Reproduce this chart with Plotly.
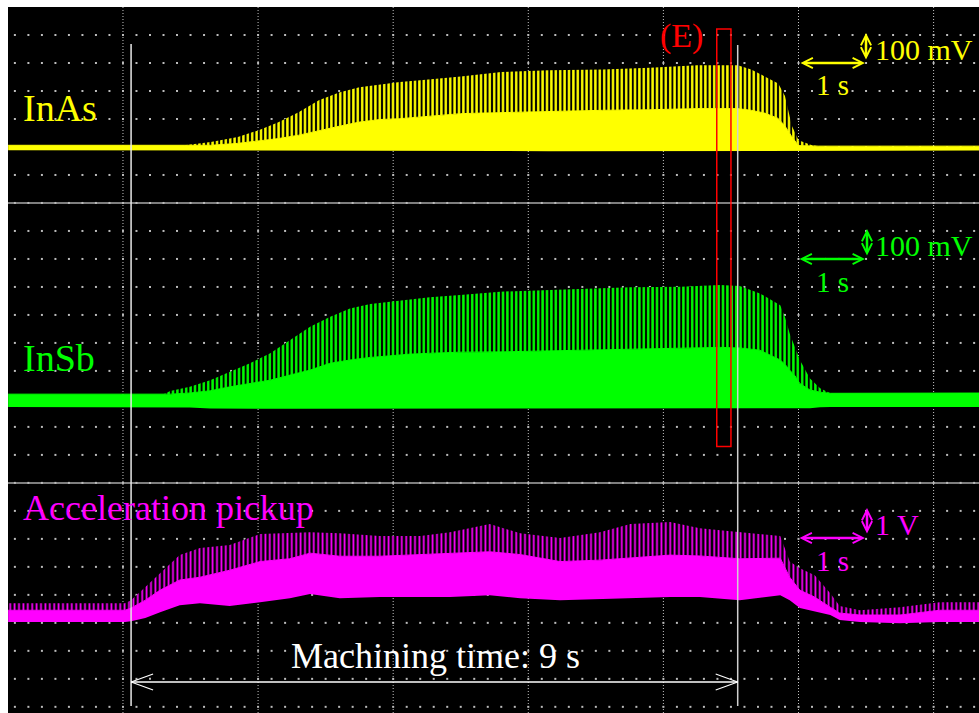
import numpy as np
import plotly.graph_objects as go

# ---------------- data ----------------
# time in seconds (0 s = first major vertical grid line, 2 s per major division)
inas_t = [-1.70, 0.90, 1.00, 1.30, 1.70, 2.00, 2.30, 2.60, 2.90, 3.20, 3.50, 3.80, 4.10, 4.40,
          4.70, 5.00, 5.30, 5.60, 6.30, 7.10, 7.80, 8.50, 9.10, 9.30, 9.50, 9.70, 9.80, 9.90,
          10.00, 10.20, 10.30, 12.70]
# InAs signal in mV relative to its baseline: peak (spike) envelope, dense body top, lower edge
inas_spike = [9, 9, 12, 21, 39, 62, 91, 127, 170, 198, 216, 226, 235, 241, 247, 255, 263, 271,
              277, 280, 286, 295, 295, 280, 255, 230, 185, 80, 27, 9, 6, 6]
inas_body = [9, 9, 9, 9, 16, 24, 33, 45, 62, 77, 92, 101, 104, 110, 115, 122, 124, 126, 130,
             134, 136, 140, 140, 134, 124, 105, 78, 40, 8, 6, 6, 6]
inas_lower = [-9, -9, -9, -10, -10, -11, -11, -11, -11, -11, -11, -11, -11, -11, -11, -11, -11,
              -11, -12, -12, -12, -12, -12, -12, -12, -12, -12, -12, -11, -10, -10, -10]

insb_t = [-1.70, 0.60, 0.70, 0.99, 1.29, 1.58, 1.88, 2.18, 2.47, 2.77, 3.06, 3.36, 3.66, 3.95,
          4.25, 4.54, 4.99, 5.58, 6.32, 7.06, 7.51, 8.25, 8.84, 9.13, 9.43, 9.73, 9.80, 9.87,
          9.95, 10.02, 10.17, 10.32, 10.47, 12.70]
insb_spike = [23, 23, 34, 49, 73, 103, 133, 169, 216, 264, 299, 329, 345, 353, 361, 369, 377,
              389, 395, 401, 405, 407, 413, 409, 383, 341, 299, 240, 192, 145, 79, 44, 26, 27]
insb_body = [23, 23, 23, 27, 35, 49, 61, 73, 91, 109, 133, 145, 154, 161, 166, 169, 173, 174,
             178, 180, 182, 186, 190, 188, 180, 145, 130, 109, 88, 61, 38, 30, 26, 27]
insb_lower = [-23, -23, -23, -25, -28, -29, -29, -29, -29, -29, -29, -29, -29, -29, -29, -29,
              -29, -29, -29, -29, -29, -29, -29, -29, -29, -29, -29, -29, -29, -29, -27, -24,
              -23, -23]

acc_t = [-1.70, 0.03, 0.12, 0.33, 0.55, 0.84, 1.14, 1.58, 2.03, 2.47, 2.77, 3.21, 3.80, 4.40,
         4.84, 5.43, 5.88, 6.47, 7.06, 7.51, 8.10, 8.54, 9.13, 9.73, 9.87, 10.02, 10.24, 10.47,
         10.61, 10.91, 11.50, 12.09, 12.70]
# acceleration pickup in V relative to its resting level
acc_spike = [0.46, 0.46, 0.57, 1.04, 1.54, 2.18, 2.43, 2.54, 2.93, 2.96, 3.00, 2.96, 2.86, 2.86,
             3.00, 3.29, 2.96, 2.79, 3.00, 3.29, 3.36, 3.14, 3.00, 2.86, 1.95, 1.71, 1.46, 0.82,
             0.36, 0.21, 0.32, 0.50, 0.50]
acc_body = [0.21, 0.21, 0.29, 0.57, 0.93, 1.29, 1.39, 1.64, 1.95, 2.05, 2.25, 2.14, 2.14, 2.20,
            2.25, 2.30, 2.20, 1.95, 2.00, 2.08, 2.18, 2.15, 2.05, 2.07, 1.39, 0.93, 0.68, 0.32,
            0.11, 0.04, 0.04, 0.21, 0.21]
acc_lower = [-0.21, -0.21, -0.18, -0.07, 0.14, 0.39, 0.46, 0.36, 0.50, 0.64, 0.79, 0.64, 0.68,
             0.68, 0.68, 0.75, 0.64, 0.57, 0.61, 0.64, 0.68, 0.68, 0.57, 0.75, 0.57, 0.29, 0.18,
             0.04, -0.14, -0.21, -0.25, -0.21, -0.21]

machining_start, machining_end = 0.12, 9.10   # s
event_window = (8.79, 9.00)                    # s, region (E)

# ---------------- screen geometry ----------------
W, H = 979, 713
ML, MT = 8, 7
X0, X1 = -1.702, 12.672          # seconds across the screen
YB = 25.22                       # screen height in vertical divisions (top = 0)

INAS_ZERO, INSB_ZERO, ACC_ZERO = 5.03, 14.06, 21.76   # channel zero positions (div from top)
MV_PER_DIV, V_PER_DIV = 100.0, 1.0

YELLOW, GREEN, MAGENTA, RED = "#ffff00", "#00ff00", "#ff00ff", "#ff0000"
FONT = "Liberation Serif"


def tx(px):
    return X0 + (px - ML) / (W - ML) * (X1 - X0)


def ty(py):
    return (py - MT) / (H - MT) * YB


fig = go.Figure()

# dotted graticule rows (0.2 s x 1 div)
gx, gy = [], []
for r in range(1, 26):
    for k in range(-8, 64):
        gx.append(k * 0.2)
        gy.append(r)
fig.add_trace(go.Scatter(x=gx, y=gy, mode="markers", hoverinfo="skip",
                         marker=dict(symbol="square", size=2, color="#bcbcbc", line_width=0)))


def add_channel(t, lower, body, spike, zero, scale, color, solidity):
    yl = [zero - v / scale for v in lower]
    yb = [zero - v / scale for v in body]
    ys = [zero - v / scale for v in spike]
    fig.add_trace(go.Scatter(x=t, y=yl, mode="lines", line=dict(width=0, color=color),
                             hoverinfo="skip"))
    fig.add_trace(go.Scatter(x=t, y=yb, mode="lines", line=dict(width=1, color=color),
                             fill="tonexty", fillcolor=color, hoverinfo="skip"))
    fig.add_trace(go.Scatter(x=t, y=ys, mode="lines", line=dict(width=0, color=color),
                             fill="tonexty", fillcolor=color, hoverinfo="skip",
                             fillpattern=dict(shape="|", fgcolor=color, bgcolor="black",
                                              fgopacity=1, size=4.4, solidity=solidity)))


add_channel(inas_t, inas_lower, inas_body, inas_spike, INAS_ZERO, MV_PER_DIV, YELLOW, 0.55)
add_channel(insb_t, insb_lower, insb_body, insb_spike, INSB_ZERO, MV_PER_DIV, GREEN, 0.55)
add_channel(acc_t, acc_lower, acc_body, acc_spike, ACC_ZERO, V_PER_DIV, MAGENTA, 0.4)

shapes = []
# major vertical dotted lines every 2 s
for xv in range(0, 13, 2):
    shapes.append(dict(type="line", x0=xv, x1=xv, y0=0, y1=YB, layer="below",
                       line=dict(color="#c4c4c4", width=1, dash="1px,2px")))
# channel separators
for rv in (7, 17):
    shapes.append(dict(type="line", x0=X0, x1=X1, y0=rv, y1=rv, layer="below",
                       line=dict(color="#a8a8a8", width=1.5)))
# machining start / end markers
shapes.append(dict(type="line", x0=machining_start, x1=machining_start, y0=ty(44), y1=ty(706),
                   line=dict(color="#e8e8e8", width=1.5)))
shapes.append(dict(type="line", x0=machining_end, x1=machining_end, y0=ty(45), y1=ty(706),
                   line=dict(color="#d0d0d0", width=1.5)))
# region (E)
shapes.append(dict(type="rect", x0=event_window[0], x1=event_window[1], y0=ty(29), y1=ty(446.5),
                   line=dict(color=RED, width=1.5), fillcolor="rgba(0,0,0,0)"))
# machining time arrow
ya = ty(682)
shapes.append(dict(type="line", x0=machining_start, x1=machining_end, y0=ya, y1=ya,
                   line=dict(color="white", width=1.5)))
hl, hh = 22 / 67.55, 8 / 28
for sgn, xe in ((1, machining_start), (-1, machining_end)):
    for d in (-1, 1):
        shapes.append(dict(type="line", x0=xe, x1=xe + sgn * hl, y0=ya, y1=ya + d * hh,
                           line=dict(color="white", width=1.2)))
fig.update_layout(shapes=shapes)

ann = []


def label(text, px, py, color, size, anchor="left"):
    ann.append(dict(text=text, x=tx(px), y=ty(py), xref="x", yref="y", showarrow=False,
                    xanchor=anchor, yanchor="middle", font=dict(family=FONT, size=size, color=color)))


label("InAs", 21, 107.5, YELLOW, 38)
label("InSb", 21, 358, GREEN, 38)
label("Acceleration pickup", 21, 508, MAGENTA, 36)
label("(E)", 681, 36, RED, 34, "center")
label("Machining time: 9 s", 435, 656, "white", 36, "center")

scale_marks = [  # color, vertical arrow x, y_top, y_bottom, horizontal y, x_left, x_right, V label, label y, 1 s y
    (YELLOW, 866, 33, 61, 63, 799, 865, "100 mV", 49, 85),
    (GREEN, 867, 229, 257, 259, 798, 865, "100 mV", 245, 282),
    (MAGENTA, 867, 508, 535, 538, 798, 865, "1 V", 524, 561),
]
for col, vx, vy0, vy1, hy, hx0, hx1, vtxt, vty, sty in scale_marks:
    ann.append(dict(x=tx(vx), y=ty(vy0), ax=tx(vx), ay=ty(vy1), axref="x", ayref="y",
                    xref="x", yref="y", text="", showarrow=True, arrowhead=5, arrowside="end+start",
                    arrowwidth=2.5, arrowsize=0.8, arrowcolor=col, standoff=0, startstandoff=0))
    ann.append(dict(x=tx(hx1), y=ty(hy), ax=tx(hx0), ay=ty(hy), axref="x", ayref="y",
                    xref="x", yref="y", text="", showarrow=True, arrowhead=5, arrowside="end+start",
                    arrowwidth=2.5, arrowsize=0.8, arrowcolor=col, standoff=0, startstandoff=0))
    label(vtxt, 873, vty, col, 30)
    label("1 s", 832, sty, col, 29, "center")

fig.update_layout(
    annotations=ann,
    width=W, height=H,
    margin=dict(l=ML, r=0, t=MT, b=0, pad=0),
    paper_bgcolor="white", plot_bgcolor="black",
    showlegend=False,
    xaxis=dict(range=[X0, X1], visible=False, showgrid=False, zeroline=False, fixedrange=True),
    yaxis=dict(range=[YB, 0], visible=False, showgrid=False, zeroline=False, fixedrange=True),
)

fig.write_html("out.html")
